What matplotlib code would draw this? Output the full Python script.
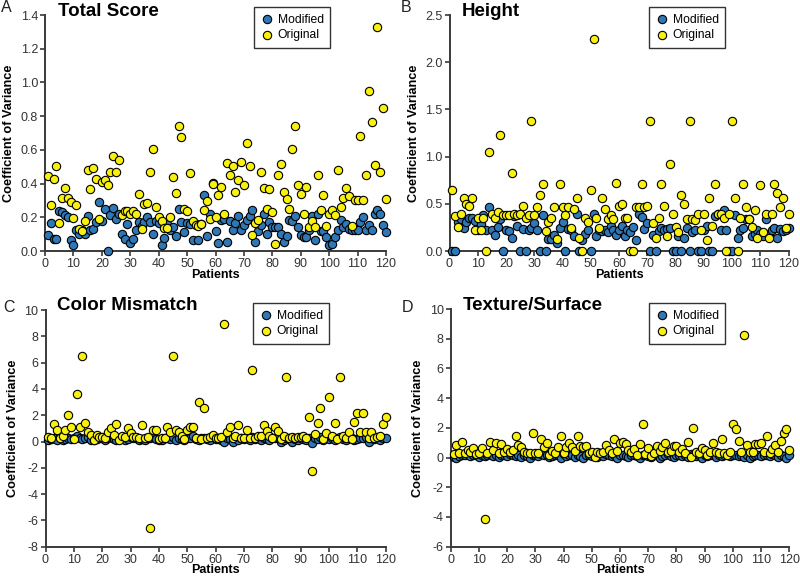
import matplotlib
matplotlib.use("Agg")
import matplotlib.pyplot as plt
import numpy as np

plt.rcParams['font.family'] = ['Liberation Sans', 'DejaVu Sans']

patients = np.arange(1, 121)
x_ticks = [0, 10, 20, 30, 40, 50, 60, 70, 80, 90, 100, 110, 120]
series_names = ["Modified", "Original"]

total_modified = [0.093,0.166,0.07,0.07,0.238,0.234,0.214,0.2,0.063,0.038,
                  0.127,0.1,0.127,0.1,0.21,0.123,0.133,0.172,0.293,0.178,
                  0.247,0.0,0.212,0.255,0.19,0.22,0.1,0.07,0.16,0.047,
                  0.07,0.123,0.172,0.15,0.172,0.2,0.172,0.1,0.18,0.166,
                  0.038,0.077,0.158,0.127,0.14,0.09,0.247,0.172,0.11,0.168,
                  0.16,0.063,0.16,0.067,0.16,0.335,0.09,0.222,0.404,0.117,
                  0.05,0.182,0.192,0.053,0.178,0.123,0.166,0.206,0.123,0.152,
                  0.182,0.206,0.242,0.053,0.117,0.156,0.222,0.103,0.172,0.143,
                  0.143,0.143,0.103,0.053,0.091,0.182,0.178,0.206,0.143,0.093,
                  0.083,0.083,0.127,0.206,0.063,0.222,0.117,0.117,0.083,0.038,
                  0.044,0.083,0.123,0.182,0.143,0.162,0.133,0.123,0.123,0.123,
                  0.172,0.202,0.123,0.152,0.123,0.222,0.242,0.222,0.152,0.11]
total_original = [0.445,0.27,0.425,0.505,0.166,0.315,0.374,0.313,0.293,0.194,
                  0.275,0.13,0.119,0.178,0.48,0.366,0.495,0.425,0.19,0.41,
                  0.42,0.394,0.47,0.564,0.47,0.54,0.216,0.24,0.235,0.22,
                  0.235,0.22,0.336,0.128,0.277,0.287,0.47,0.608,0.26,0.2,
                  0.176,0.137,0.137,0.2,0.44,0.343,0.74,0.675,0.247,0.238,
                  0.46,0.18,0.152,0.15,0.158,0.245,0.295,0.19,0.40,0.20,
                  0.335,0.38,0.222,0.525,0.45,0.505,0.35,0.424,0.529,0.394,
                  0.64,0.505,0.093,0.166,0.186,0.47,0.374,0.25,0.366,0.232,
                  0.044,0.453,0.519,0.35,0.31,0.247,0.604,0.74,0.394,0.34,
                  0.218,0.38,0.143,0.18,0.143,0.45,0.245,0.335,0.147,0.222,
                  0.245,0.212,0.48,0.26,0.315,0.374,0.327,0.15,0.305,0.30,
                  0.68,0.30,0.45,0.95,0.766,0.513,1.33,0.47,0.85,0.31]

height_modified = [0,0,0.308,0.343,0.248,0.308,0.354,0.354,0.315,0.22,
                   0.29,0.378,0.22,0.467,0.22,0.166,0.255,0.343,0,0.22,
                   0.209,0.141,0.368,0.265,0,0.237,0,0.22,0.248,0.3,
                   0.226,0,0.378,0,0.124,0.124,0.166,0.088,0.248,0.308,
                   0,0.237,0.22,0.16,0.396,0,0.113,0.184,0.22,0,
                   0.396,0.16,0.22,0.212,0.22,0.2,0.262,0.22,0.166,0.22,
                   0.262,0.16,0.22,0.2,0.255,0.12,0.396,0.36,0.237,0.3,
                   0,0.166,0,0.209,0.244,0.226,0.237,0.248,0,0,
                   0.16,0,0.141,0.248,0,0.2,0.226,0,0,0.226,
                   0.262,0,0,0.371,0.396,0.226,0.438,0.226,0,0,
                   0.378,0.141,0.226,0.248,0.343,0.343,0.16,0.184,0.226,0.184,
                   0.16,0.343,0.184,0.226,0.248,0.141,0.237,0.209,0.226,0.248]
height_original = [0.644,0.368,0.25,0.396,0.566,0.5,0.477,0.566,0.226,0.354,
                   0.226,0.354,0.0,1.05,0.396,0.354,0.414,1.234,0.378,0.378,
                   0.378,0.831,0.396,0.378,0.396,0.477,0.354,0.378,1.375,0.378,
                   0.467,0.598,0.707,0.209,0.308,0.354,0.467,0.124,0.707,0.467,
                   0.378,0.467,0.248,0.442,0.562,0.141,0.0,0.354,0.308,0.644,
                   2.249,0.354,0.244,0.562,0.442,0.343,0.378,0.343,0.725,0.477,
                   0.5,0.354,0.354,0.0,0.0,0.467,0.467,0.714,0.467,0.477,
                   1.38,0.3,0.141,0.354,0.714,0.477,0.16,0.919,0.396,0.255,
                   0.2,0.598,0.5,0.343,1.38,0.343,0.325,0.396,0.22,0.396,
                   0.12,0.562,0.262,0.714,0.396,0.396,0.354,0.0,0.396,1.38,
                   0.562,0.0,0.354,0.714,0.467,0.343,0.255,0.438,0.141,0.704,
                   0.2,0.396,0.141,0.396,0.714,0.615,0.467,0.562,0.248,0.396]

color_modified = [0.12,0.2,0.28,0.15,0.35,0.1,0.22,0.3,0.18,0.25,
                  0.4,0.3,0.22,0.25,0.35,0.15,0.1,0.2,0.3,0.25,
                  0.15,0.3,0.35,0.2,0.08,0.25,0.3,0.15,0.2,0.35,
                  0.3,0.25,0.1,0.2,0.15,0.3,0.25,0.35,0.2,0.15,
                  0.1,0.3,0.25,0.2,0.35,0.15,0.3,0.2,0.1,0.25,
                  0.3,0.45,0.2,0.15,0.3,0.25,0.2,0.1,0.35,0.2,
                  0.3,0.15,-0.05,0.25,0.2,-0.05,0.3,0.15,0.25,0.2,
                  0.3,0.1,0.35,0.2,0.25,0.15,0.3,0.2,0.1,0.3,
                  0.25,0.35,-0.05,0.15,0.3,0.25,-0.05,0.2,0.15,0.3,
                  0.2,0.1,0.25,-0.1,0.3,0.2,0.35,0.15,0.25,0.2,
                  0.3,0.1,0.25,0.35,0.2,0.15,0.3,0.25,0.1,0.2,
                  0.3,0.25,0.35,-0.05,0.25,0.2,0.3,0.15,0.25,0.3]
color_original = [0.36,0.3,1.32,0.86,0.3,0.43,0.91,2.03,1.07,0.18,
                  3.65,1.07,6.52,1.4,0.69,0.48,0.1,0.48,0.38,0.36,
                  0.23,0.76,0.99,0.46,1.32,0.1,0.43,0.36,0.99,0.66,
                  0.36,0.36,0.3,1.22,0.3,0.36,-6.55,0.84,0.91,0.2,
                  0.3,0.3,1.07,0.76,6.52,0.91,0.69,0.43,0.2,0.91,
                  1.07,1.07,0.23,3.02,0.18,2.51,0.3,0.36,0.51,0.3,
                  0.25,0.36,8.93,0.69,1.07,0.3,0.43,1.27,0.3,0.25,
                  0.91,0.3,5.46,0.3,0.43,0.43,1.22,0.81,0.43,0.3,
                  1.07,0.81,0.18,0.43,4.87,0.3,0.36,0.3,0.36,0.36,
                  0.43,0.3,1.88,-2.23,0.56,1.4,2.51,0.18,0.61,3.35,
                  0.43,1.4,0.18,4.87,0.43,0.3,0.69,0.18,1.47,2.2,
                  0.69,2.2,0.76,0.3,0.69,0.3,0.36,0.43,1.32,1.88]

texture_modified = [0.05,0.0,0.1,0.2,0.15,0.25,0.1,0.2,0.15,0.05,
                    0.2,0.1,0.15,0.25,0.1,0.2,0.05,0.15,0.2,0.1,
                    0.25,0.15,0.1,0.2,0.05,0.15,0.1,0.0,0.2,0.15,
                    0.1,0.25,0.15,0.2,0.05,0.1,0.2,0.15,0.0,0.25,
                    0.1,0.2,0.15,0.05,0.2,0.1,0.0,0.15,0.2,0.1,
                    0.15,0.05,0.2,0.1,0.25,0.15,0.1,0.2,0.0,0.15,
                    0.2,0.1,0.05,0.15,0.2,0.1,0.0,0.15,0.2,0.1,
                    0.05,0.15,0.2,0.0,0.1,0.15,0.25,0.1,0.05,0.2,
                    0.15,0.1,0.2,0.05,0.25,0.15,0.1,0.2,0.0,0.15,
                    0.1,0.2,0.15,0.05,0.2,0.1,0.15,0.25,0.1,0.2,
                    0.15,0.1,0.2,0.05,0.15,0.0,0.1,0.2,0.15,0.1,
                    0.2,0.15,0.1,0.25,0.15,0.05,0.2,0.1,0.0,0.15]
texture_original = [0.25,0.85,0.34,1.08,0.3,0.52,0.4,0.67,0.25,0.3,
                    0.63,-4.13,0.3,1.08,0.52,1.01,0.34,0.92,0.4,0.56,
                    0.4,0.52,1.42,0.85,0.74,0.4,0.34,0.34,1.64,0.34,
                    0.34,1.24,0.74,0.97,0.18,0.47,0.34,0.74,1.48,0.34,
                    0.74,0.97,0.74,0.47,1.48,0.81,0.74,0.81,0.3,0.4,
                    0.02,0.4,0.3,0.4,0.85,0.52,0.3,1.26,0.47,0.97,
                    1.08,0.92,0.52,0.4,0.58,0.18,0.92,2.27,0.22,0.63,
                    0.13,0.3,0.81,0.47,0.74,0.97,0.4,0.47,0.81,0.81,
                    0.4,0.56,0.3,1.03,0.07,1.98,0.4,0.3,0.63,0.52,
                    0.18,0.4,1.01,0.4,0.3,1.26,0.3,0.18,0.4,2.27,
                    1.91,1.12,0.4,8.22,0.85,0.4,0.4,0.92,0.92,0.97,
                    0.4,1.42,0.3,0.58,0.85,0.4,1.12,1.64,1.93,0.52]

panels = [
    dict(letter="A", title="Total Score", mod=total_modified, orig=total_original,
         ylim=(0, 1.4), yticks=[0.0, 0.2, 0.4, 0.6, 0.8, 1.0, 1.2, 1.4], fmt="{:.1f}",
         rect=[45/800, 1-251/577, 341/800, 236/577], title_xy=(58, 11), letter_xy=(1, 8),
         leg=(254, 7)),
    dict(letter="B", title="Height", mod=height_modified, orig=height_original,
         ylim=(0, 2.5), yticks=[0.0, 0.5, 1.0, 1.5, 2.0, 2.5], fmt="{:.1f}",
         rect=[449.5/800, 1-251/577, 339/800, 236/577], title_xy=(462, 11), letter_xy=(401, 8),
         leg=(649, 7)),
    dict(letter="C", title="Color Mismatch", mod=color_modified, orig=color_original,
         ylim=(-8, 10), yticks=[-8, -6, -4, -2, 0, 2, 4, 6, 8, 10], fmt="{:d}",
         rect=[45.5/800, 1-546.7/577, 340/800, 236.7/577], title_xy=(57, 305), letter_xy=(3, 308),
         leg=(253, 303)),
    dict(letter="D", title="Texture/Surface", mod=texture_modified, orig=texture_original,
         ylim=(-6, 10), yticks=[-6, -4, -2, 0, 2, 4, 6, 8, 10], fmt="{:d}",
         rect=[450.7/800, 1-546.7/577, 338.6/800, 237.7/577], title_xy=(463, 305), letter_xy=(402, 308),
         leg=(649, 303)),
]

blue = "#2F78B8"
yellow = "#F8F00F"
axcol = "#3a3a3a"

fig = plt.figure(figsize=(8, 5.77), dpi=100)
W, H = 800, 577
for p in panels:
    ax = fig.add_axes(p["rect"])
    ax.scatter(patients, p["mod"], s=36, c=blue, edgecolors="black", linewidths=0.8,
               zorder=3, clip_on=False, label=series_names[0])
    ax.scatter(patients, p["orig"], s=36, c=yellow, edgecolors="black", linewidths=0.8,
               zorder=4, clip_on=False, label=series_names[1])
    ax.set_xlim(0, 120)
    ax.set_ylim(*p["ylim"])
    ax.set_xticks(x_ticks)
    ax.set_yticks(p["yticks"])
    ax.set_yticklabels([p["fmt"].format(int(v)) if p["fmt"] == "{:d}" else p["fmt"].format(v)
                        for v in p["yticks"]])
    for s in ["top", "right"]:
        ax.spines[s].set_visible(False)
    for s in ["left", "bottom"]:
        ax.spines[s].set_color(axcol)
        ax.spines[s].set_linewidth(1.4)
    ax.tick_params(direction="out", length=3.5, width=1.2, colors=axcol,
                   labelsize=9, labelcolor="#333333", pad=1.5)
    ax.set_xlabel("Patients", fontsize=9, fontweight="bold", labelpad=-1)
    ax.set_ylabel("Coefficient of Variance", fontsize=9.2, fontweight="bold", labelpad=4)
    tx, ty = p["title_xy"]
    fig.text(tx/W, 1-ty/H, p["title"], fontsize=13.5, fontweight="bold", va="center", ha="left")
    lx, ly = p["letter_xy"]
    fig.text(lx/W, 1-ly/H, p["letter"], fontsize=11.5, va="center", ha="left", color="#222222")
    bx, by = p["leg"]
    leg = ax.legend(loc="upper left", bbox_to_anchor=(bx/W, 1-by/H), bbox_transform=fig.transFigure,
                    frameon=True, fancybox=False, edgecolor="black", fontsize=8.7,
                    handletextpad=0.4, borderpad=0.55, labelspacing=0.3, handlelength=1.0,
                    borderaxespad=0)
    leg.get_frame().set_linewidth(1.0)

fig.savefig("out.png", dpi=100)
